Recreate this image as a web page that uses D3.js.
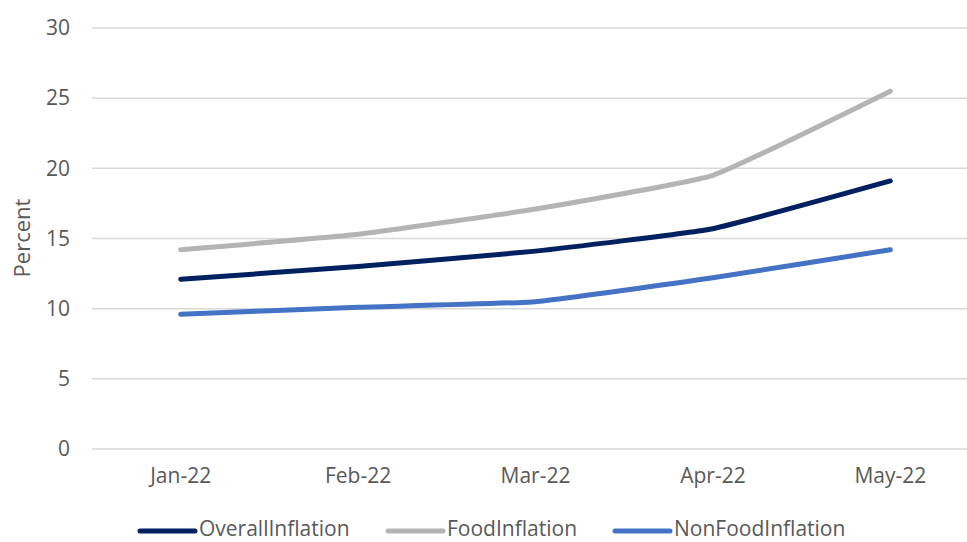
<!DOCTYPE html>
<html><head><meta charset="utf-8">
<script src="https://cdn.jsdelivr.net/npm/d3@7"></script>
<style>body{margin:0;background:#fff;} svg{display:block;font-family:"Open Sans",sans-serif;}</style>
</head><body>
<svg id="c" width="967" height="542"></svg>
<script>
const categories = ["Jan-22","Feb-22","Mar-22","Apr-22","May-22"];
const overallInflation = [12.1, 13.0, 14.1, 15.7, 19.1];
const foodInflation = [14.2, 15.3, 17.1, 19.5, 25.5];
const nonFoodInflation = [9.6, 10.1, 10.5, 12.2, 14.2];
const yTicks = [0,5,10,15,20,25,30];
const seriesNames = ["OverallInflation","FoodInflation","NonFoodInflation"];
const seriesColors = ["#002060","#B4B4B4","#4472C4"];
const seriesValues = [overallInflation, foodInflation, nonFoodInflation];

(function(){
const svg = d3.select("#c");
const pLeft = 92, pRight = 979, pTop = 28, pBottom = 449;
const x = d3.scaleBand().domain(categories).range([pLeft, pRight]);
const y = d3.scaleLinear().domain([0,30]).range([pBottom, pTop]);
const textColor = "#595959";
const fs = "21px";

svg.append("g").selectAll("line").data(yTicks).join("line")
  .attr("x1", pLeft).attr("x2", pRight)
  .attr("y1", d => y(d)).attr("y2", d => y(d))
  .attr("stroke", "#D9D9D9").attr("stroke-width", 1.5);

const yAxis = d3.axisLeft(y).tickValues(yTicks).tickSize(0).tickPadding(0);
const ga = svg.append("g").attr("transform", `translate(70,0)`).call(yAxis);
ga.select(".domain").remove();
ga.selectAll("text").attr("fill", textColor).style("font-size", fs).style("font-family", "'Open Sans',sans-serif");

const xAxis = d3.axisBottom(x).tickSize(0).tickPadding(0);
const gx = svg.append("g").attr("transform", `translate(0,468)`).call(xAxis);
gx.select(".domain").remove();
gx.selectAll("text").attr("fill", textColor).style("font-size", fs).style("font-family", "'Open Sans',sans-serif");

svg.append("text").attr("transform", "translate(30,238) rotate(-90)")
  .attr("text-anchor", "middle").attr("fill", textColor).style("font-size", "22px").text("Percent");

const line = d3.line()
  .x((d,i) => x(categories[i]) + x.bandwidth()/2)
  .y(d => y(d))
  .curve(d3.curveCardinal.tension(0.65));

seriesValues.forEach((vals, k) => {
  svg.append("path").datum(vals).attr("d", line)
    .attr("fill", "none").attr("stroke", seriesColors[k]).attr("stroke-width", 5)
    .attr("stroke-linecap", "round").attr("stroke-linejoin", "round");
});

const legendX = [140, 388, 615];
const legend = svg.append("g");
seriesNames.forEach((name, k) => {
  legend.append("line").attr("x1", legendX[k]).attr("x2", legendX[k] + 55)
    .attr("y1", 531).attr("y2", 531)
    .attr("stroke", seriesColors[k]).attr("stroke-width", 5).attr("stroke-linecap", "round");
  legend.append("text").attr("x", legendX[k] + 59).attr("y", 536)
    .attr("fill", textColor).style("font-size", fs).text(name);
});
})();
</script>
</body></html>
